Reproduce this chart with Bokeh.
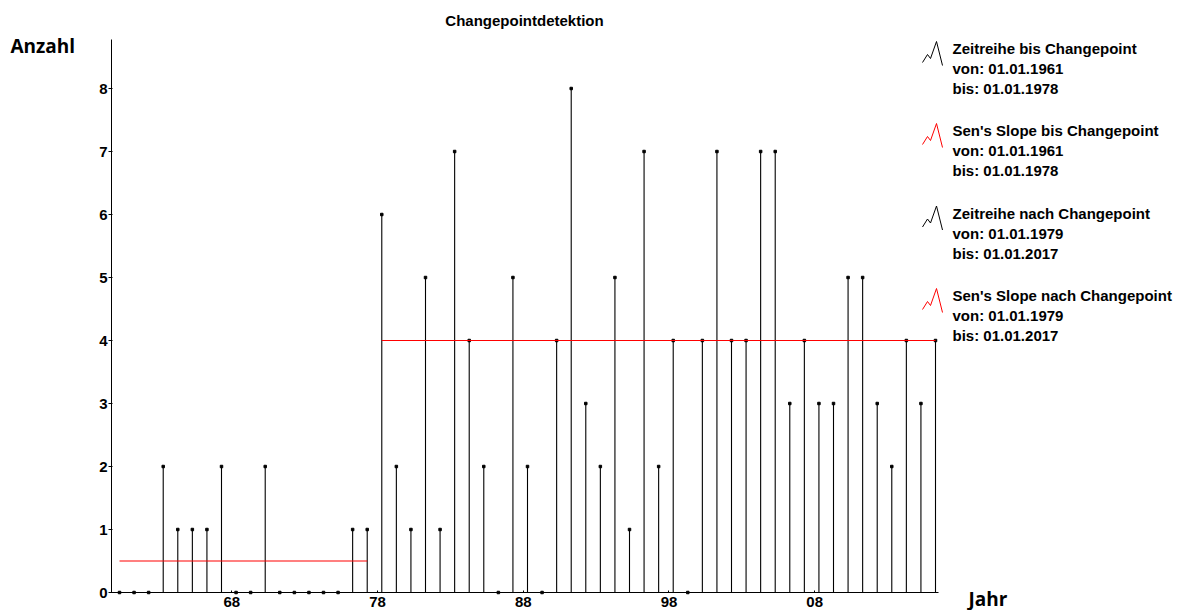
from bokeh.plotting import figure
from bokeh.models import Range1d, FixedTicker, LinearAxis
from bokeh.embed import file_html
from bokeh.resources import INLINE
from bokeh.core.properties import value

# ---------------- data ----------------
years = list(range(1961, 2018))
counts = [0, 0, 0, 2, 1, 1, 1, 2, 0, 0, 2, 0, 0, 0, 0, 0, 1, 1,
          6, 2, 1, 5, 1, 7, 4, 2, 0, 5,
          2, 0, 4, 8, 3, 2, 5, 1, 7, 2,
          4, 0, 4, 7, 4, 4, 7, 7, 3, 4,
          3, 3, 5, 5, 3, 2, 4, 3, 4]

sen_before_x = [1961, 1978]
sen_before_y = [0.5, 0.5]
sen_after_x = [1979, 2017]
sen_after_y = [4, 4]

x_ticks = [1968.71, 1978.71, 1988.71, 1998.71, 2008.71]
x_tick_labels = ["68", "78", "88", "98", "08"]
y_ticks = [0, 1, 2, 3, 4, 5, 6, 7, 8]

legend_titles = ["Zeitreihe bis Changepoint", "Sen's Slope bis Changepoint",
                 "Zeitreihe nach Changepoint", "Sen's Slope nach Changepoint"]
legend_von = ["01.01.1961", "01.01.1961", "01.01.1979", "01.01.1979"]
legend_bis = ["01.01.1978", "01.01.1978", "01.01.2017", "01.01.2017"]
legend_colors = ["black", "red", "black", "red"]

title_text = "Changepointdetektion"
y_label_text = "Anzahl"
x_label_text = "Jahr"

# ---------------- layout (canvas px) ----------------
W, H = 1185, 610
PX_PER_YEAR = (935 - 119) / (2017 - 1961)   # stem spacing in pixels
PX_PER_UNIT = (592 - 88) / 8                # one count in pixels
X_START = 1961 - 119 / PX_PER_YEAR
X_END = X_START + W / PX_PER_YEAR
Y_END = 592 / PX_PER_UNIT
Y_START = Y_END - H / PX_PER_UNIT

def dx(px):
    return X_START + px / PX_PER_YEAR

def dy(py):
    return Y_END - py / PX_PER_UNIT

FONT = "Liberation Sans"
FONT_LABEL = "Open Sans"

p = figure(width=W, height=H, x_range=Range1d(X_START, X_END), y_range=Range1d(Y_START, Y_END),
           output_backend="svg", toolbar_location=None, min_border=0,
           x_axis_type=None, y_axis_type=None)
p.outline_line_color = None
p.background_fill_color = "white"
p.border_fill_color = "white"

# axes placed at fixed locations inside the canvas
xaxis = LinearAxis(fixed_location=0, bounds=(dx(111), dx(938)))
yaxis = LinearAxis(fixed_location=dx(111), bounds=(0, dy(39)))
p.add_layout(xaxis, "below")
p.add_layout(yaxis, "left")

for ax in (xaxis, yaxis):
    ax.axis_line_color = "black"
    ax.axis_line_width = 1
    ax.major_tick_line_color = "black"
    ax.minor_tick_line_color = None
    ax.major_label_text_font = FONT
    ax.major_label_text_font_style = "bold"
    ax.major_label_text_font_size = "15px"
    ax.major_label_text_color = "black"

xaxis.ticker = FixedTicker(ticks=x_ticks)
xaxis.major_label_overrides = {t: l for t, l in zip(x_ticks, x_tick_labels)}
xaxis.major_tick_in = 2
xaxis.major_tick_out = 0
xaxis.major_label_standoff = 4

yaxis.ticker = FixedTicker(ticks=y_ticks)
yaxis.major_tick_in = 1
yaxis.major_tick_out = 3
yaxis.major_label_standoff = 1

# stems
p.segment(x0=years, y0=[0] * len(years), x1=years, y1=counts, line_color="black", line_width=1.1)
p.scatter(x=years, y=counts, marker="square", size=2.5, color="black")

# Sen's slope
p.line(sen_before_x, sen_before_y, line_color="red", line_width=1.2)
p.line(sen_after_x, sen_after_y, line_color="red", line_width=1.2)

# title and axis titles
p.text(x=[dx(524)], y=[dy(19.5)], text=[title_text], text_font=value(FONT), text_font_style="bold",
       text_font_size="15px", text_align="center", text_baseline="alphabetic", text_color="black")
p.text(x=[dx(10)], y=[dy(45.5)], text=[y_label_text], text_font=value(FONT_LABEL), text_font_style="bold",
       text_font_size="19px", text_align="left", text_baseline="alphabetic", text_color="black")
p.text(x=[dx(968)], y=[dy(598)], text=[x_label_text], text_font=value(FONT_LABEL), text_font_style="bold",
       text_font_size="19px", text_align="left", text_baseline="alphabetic", text_color="black")

# legend
group_y = [48, 130, 212.5, 295]
text_x = 952
icon_dx = [-30, -25, -22, -16, -10]
icon_dy = [14, 6, 10, -7, 17]
for gy, title, von, bis, col in zip(group_y, legend_titles, legend_von, legend_bis, legend_colors):
    p.line([dx(text_x + d) for d in icon_dx], [dy(gy + d) for d in icon_dy], line_color=col, line_width=1)
    p.text(x=[dx(text_x)] * 3, y=[dy(gy), dy(gy + 20), dy(gy + 40)],
           text=[title, "von: " + von, "bis: " + bis],
           text_font=value(FONT), text_font_style="bold", text_font_size="15px",
           text_baseline="middle", text_align="left", text_color="black")

open("out.html", "w").write(file_html(p, INLINE))
